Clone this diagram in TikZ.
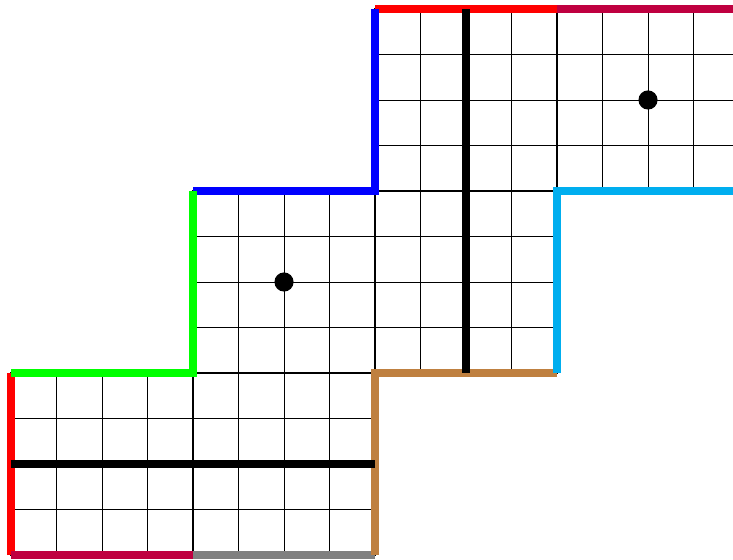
\documentclass[tikz,border=0pt]{standalone}
\definecolor{skyline}{RGB}{0,174,239}
\definecolor{crimsonline}{RGB}{191,0,64}
\definecolor{brownline}{RGB}{191,128,64}
\tikzset{
  cellgrid/.style={draw=black, line width=0.6pt},
  blockedge/.style={draw=black, line width=1.5pt},
  edgeline/.style={line width=5pt, line cap=butt, line join=miter},
  axisline/.style={draw=black, line width=5pt, line cap=butt},
  centerdot/.style={fill=black}
}
\begin{document}
\begin{tikzpicture}
\useasboundingbox (-0.242,-0.088) rectangle (15.868,12.198);
\clip (-0.242,-0.088) rectangle (15.868,12.198);
% cell grids
\foreach \bx/\by in {0/0,4/0,4/4,8/4,8/8,12/8}{
  \draw[cellgrid] (\bx,\by) grid (\bx+4,\by+4);
}
% block borders
\foreach \bx/\by in {0/0,4/0,4/4,8/4,8/8,12/8}{
  \draw[blockedge] (\bx,\by) rectangle (\bx+4,\by+4);
}
% coloured boundary
\draw[edgeline, red] (0,0) -- (0,4);
\draw[edgeline, crimsonline] (0,0) -- (4,0);
\draw[edgeline, gray] (4,0) -- (8,0);
\draw[edgeline, brownline] (8,0) -- (8,4) -- (12,4);
\draw[edgeline, skyline] (12,4) -- (12,8) -- (16,8);
\draw[edgeline, crimsonline] (12,12) -- (16,12);
\draw[edgeline, red] (8,12) -- (12,12);
\draw[edgeline, blue] (8,12) -- (8,8) -- (4,8);
\draw[edgeline, green] (4,8) -- (4,4) -- (0,4);
% thick axis lines
\draw[axisline] (0,2) -- (8,2);
\draw[axisline] (10,4) -- (10,12);
% dots
\fill[centerdot] (6,6) circle (0.21);
\fill[centerdot] (14,10) circle (0.21);
\end{tikzpicture}
\end{document}
